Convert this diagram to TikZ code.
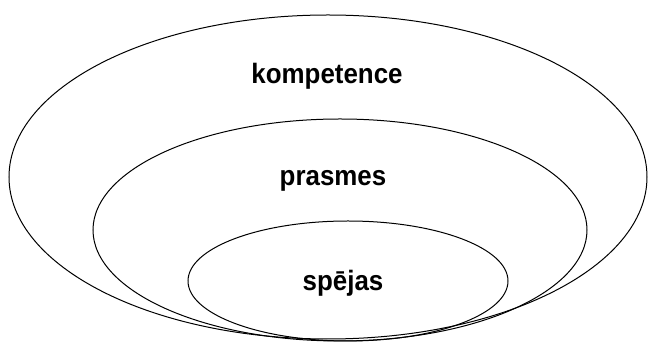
\documentclass[tikz,border=0pt]{standalone}
\usepackage{fontspec}
\setmainfont{Liberation Sans}
\usetikzlibrary{shapes.geometric}
\tikzset{
  ring/.style={draw=black, line width=1pt, ellipse, inner sep=0pt},
  lbl/.style={font=\fontsize{28}{28}\selectfont\bfseries, inner sep=0pt, anchor=base, xscale=0.925}
}
\begin{document}
\begin{tikzpicture}[x=1pt,y=-1pt]
\useasboundingbox (0,0) rectangle (649,344);
\node[ring, minimum width=638pt, minimum height=324pt] (outer) at (328,177) {};
\node[ring, minimum width=494pt, minimum height=222pt] (middle) at (340,230) {};
\node[ring, minimum width=320pt, minimum height=120pt] (inner) at (348,281) {};
\node[lbl] (t1) at (327,84) {kompetence};
\node[lbl] (t2) at (333,186) {prasmes};
\node[lbl] (t3) at (343,291) {spējas};
\end{tikzpicture}
\end{document}
